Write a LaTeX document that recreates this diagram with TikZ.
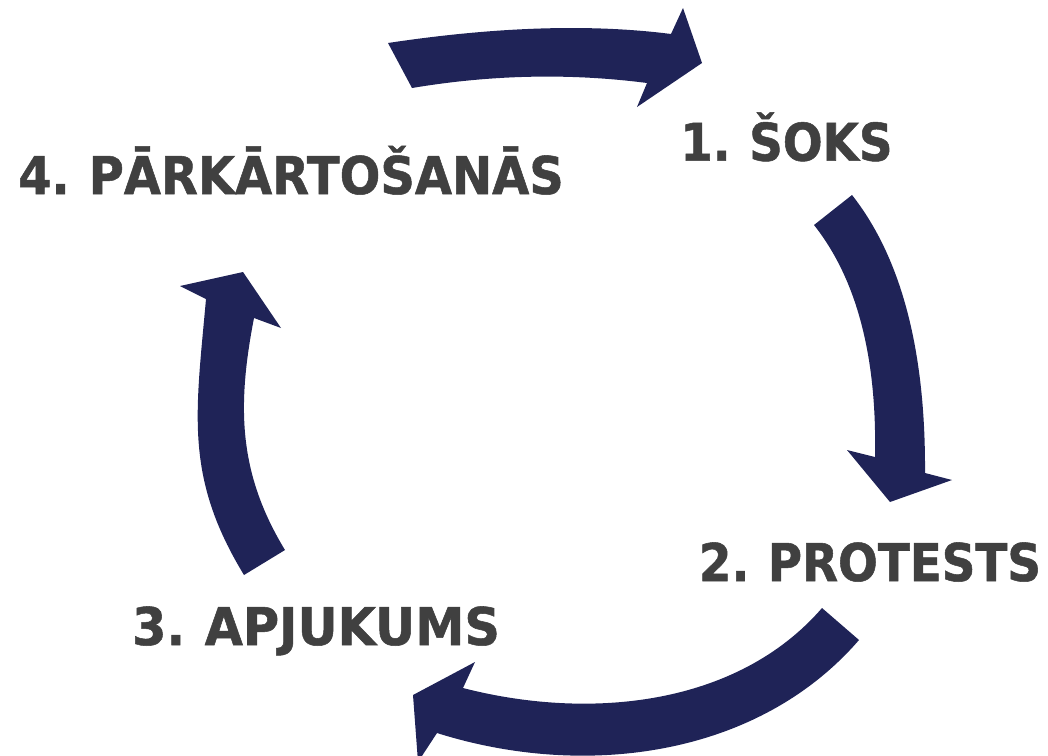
\documentclass[tikz,border=0pt]{standalone}
\usepackage{fontspec}
\newfontfamily\labfont{DejaVu Sans}[FakeStretch=0.9,WordSpace=0.8,BoldFeatures={FakeBold=1}]
\newfontfamily\labfontc{DejaVu Sans}[FakeStretch=0.95,WordSpace=0.8,BoldFeatures={FakeBold=1}]
\newfontfamily\labfontd{DejaVu Sans}[FakeStretch=0.922,WordSpace=0.8,BoldFeatures={FakeBold=1}]
\definecolor{arrowblue}{HTML}{1F2357}
\definecolor{labgray}{HTML}{404040}
\begin{document}
\begin{tikzpicture}[x=1pt,y=-1pt,
  arr/.style={fill=arrowblue,draw=none},
  lab/.style={text=labgray,font=\labfont\bfseries\fontsize{52}{60}\selectfont,inner sep=0pt,anchor=base}]
\useasboundingbox (0,0) rectangle (1048,755);
% top arrow (4 -> 1)
\fill[arr] (388,43) .. controls (496.3,26.7) and (590.7,23.7) .. (671,34) -- (683,8) -- (702,63) -- (637,107) -- (647,83) .. controls (569.7,73) and (491.3,74.7) .. (412,88) -- cycle;
% right arrow (1 -> 2)
\fill[arr] (852,195) .. controls (901.3,257.7) and (925.7,350.3) .. (925,473) -- (952,480) -- (890,502) -- (847,450) -- (875,457) .. controls (877,356.3) and (856.7,279) .. (814,225) -- cycle;
% bottom arrow (2 -> 3)
\fill[arr] (859,640) .. controls (757.6,757.2) and (584.3,779.5) .. (437,733) -- (418,762) -- (413,695) -- (475,662) -- (463,688) .. controls (589,720.5) and (737,706.3) .. (822,608) -- cycle;
% left arrow (3 -> 4)
\fill[arr] (244,575) .. controls (184.2,476.8) and (195.7,414) .. (206,299) -- (180,286) -- (243,272) -- (281,328) -- (254,318) .. controls (236.9,406.2) and (238.2,473.1) .. (285,550) -- cycle;
% labels
\node[lab] (l1) at (786.5,160.7) {1. ŠOKS};
\node[lab] (l2) at (870,581) {2. PROTESTS};
\node[lab,font=\labfontc\bfseries\fontsize{52}{60}\selectfont] (l3) at (316,645) {3. APJUKUMS};
\node[lab,font=\labfontd\bfseries\fontsize{52}{60}\selectfont] (l4) at (291,194) {4. PĀRKĀRTOŠANĀS};
\end{tikzpicture}
\end{document}
